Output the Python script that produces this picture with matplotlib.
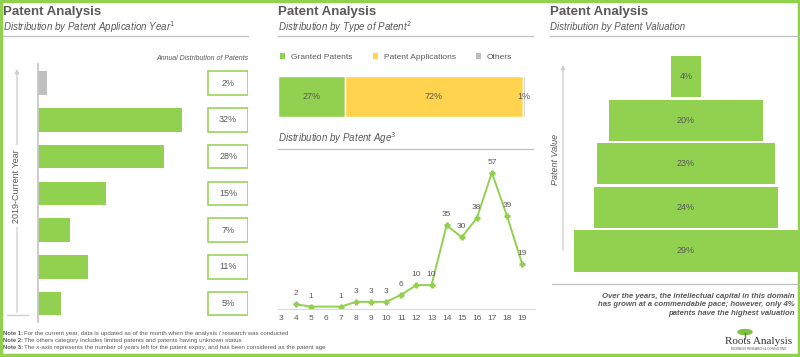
import numpy as np
import matplotlib.pyplot as plt
from matplotlib.patches import Rectangle, Ellipse, Patch

plt.rcParams['font.family'] = ['Liberation Sans', 'DejaVu Sans']

W, H = 800, 357
GREEN = '#92D050'
YELLOW = '#FFD34E'
GRAY = '#BFBFBF'
TXT = '#595959'

# distribution by application year (top = current year, bottom = 2019)
year_share = [2, 32, 28, 15, 7, 11, 5]
year_colors = [GRAY] + [GREEN] * 6

# distribution by type of patent
type_names = ['Granted Patents', 'Patent Applications', 'Others']
type_share = [27, 72, 1]
type_colors = [GREEN, YELLOW, GRAY]

# distribution by patent age
age = [4, 5, 7, 8, 9, 10, 11, 12, 13, 14, 15, 16, 17, 18, 19]
age_count = [2, 1, 1, 3, 3, 3, 6, 10, 10, 35, 30, 38, 57, 39, 19]
age_ticks = list(range(3, 20))

# distribution by patent valuation (top = highest value)
val_share = [4, 20, 23, 24, 29]

fig = plt.figure(figsize=(8, 3.57), dpi=100)


def px_axes(x0, y0, x1, y1):
    ax = fig.add_axes([x0 / W, 1 - y1 / H, (x1 - x0) / W, (y1 - y0) / H])
    ax.patch.set_alpha(0)
    return ax


# overlay in pixel coords for titles, lines, notes
ov = px_axes(0, 0, W, H)
ov.set_xlim(0, W)
ov.set_ylim(H, 0)
ov.axis('off')

for x0, x1, sub in [(3, 248, 'Distribution by Patent Application Year$^1$'),
                    (278, 533, 'Distribution by Type of Patent$^2$'),
                    (550, 800, 'Distribution by Patent Valuation')]:
    ov.text(x0, 12, 'Patent Analysis', fontsize=9.5, fontweight='bold', color=TXT, va='center')
    ov.text(x0, 27, sub, fontsize=7, style='italic', color=TXT, va='center')
    ov.plot([x0, x1], [36, 36], color=GRAY, lw=0.9)

ov.text(278, 138, 'Distribution by Patent Age$^3$', fontsize=7, style='italic', color=TXT, va='center')
ov.plot([278, 533], [149, 149], color=GRAY, lw=0.9)

ov.text(248, 58, 'Annual Distribution of Patents', fontsize=5, style='italic', color=TXT,
        ha='right', va='center')

# year axis arrow
ov.annotate('', xy=(17, 66), xytext=(17, 315),
            arrowprops=dict(arrowstyle='-|>', color='#D0D0D0', lw=1, mutation_scale=6))
ov.plot([7, 28], [315, 315], color='#D0D0D0', lw=1)
ov.text(17, 186, '2019-Current Year', rotation=90, fontsize=6.5, color=TXT, ha='center', va='center',
        bbox=dict(facecolor='white', edgecolor='none', pad=3))

# valuation arrow
ov.annotate('', xy=(563, 62), xytext=(563, 253),
            arrowprops=dict(arrowstyle='-|>', color='#D0D0D0', lw=1, mutation_scale=6))
ov.text(555, 159, 'Patent Value', rotation=90, fontsize=6.5, style='italic', color=TXT,
        ha='center', va='center')

# conclusion
ov.plot([552, 800], [284, 284], color=GRAY, lw=0.9)
ov.text(795, 305, 'Over the years, the intellectual capital in this domain\n'
        'has grown at a commendable pace; however, only 4%\n'
        'patents have the highest valuation',
        fontsize=5.6, fontweight='bold', style='italic', color=TXT, ha='right', va='center',
        linespacing=1.25)

# notes
notes = [('Note 1:', 'For the current year, data is updated as of the month when the analysis / research was conducted'),
         ('Note 2:', 'The others category includes limited patents and patents having unknown status'),
         ('Note 3:', 'The x-axis represents the number of years left for the patent expiry, and has been considered as the patent age')]
for i, (a, b) in enumerate(notes):
    y = 333.5 + i * 7
    ov.text(3, y, a, fontsize=4.2, fontweight='bold', color=TXT, va='center')
    ov.text(24, y, b, fontsize=4.4, color=TXT, va='center')

# logo
ov.add_patch(Ellipse((745, 332), 14, 5, color='#7CC142'))
ov.plot([745, 745], [333, 338], color='#8B6B3D', lw=1)
ov.text(759, 342, 'Roots Analysis', fontsize=8, family='Liberation Serif', color='#333333',
        ha='center', va='center')
ov.text(759, 349, 'BUSINESS RESEARCH & CONSULTING', fontsize=2.2, color='#555555', ha='center', va='center')

# border
ov.add_patch(Rectangle((1, 1), W - 2.5, H - 3.5, fill=False, edgecolor=GREEN, lw=2.5))

# ---- panel 1: bars by year
ax1 = px_axes(38, 64, 248, 322)
idx = np.arange(len(year_share))
ax1.barh(idx, year_share, height=0.64, color=year_colors)
box_left, box_w = 37.8, 8.9
ax1.barh(idx, box_w, left=box_left, height=0.64, color='white', edgecolor=GREEN, lw=1.1)
for i, v in enumerate(year_share):
    ax1.text(box_left + box_w / 2, i, f'{v}%', fontsize=6.5, color=TXT, ha='center', va='center')
ax1.set_xlim(0, 210 / 4.5)
ax1.set_ylim(6.5, -0.52)
for s in ['top', 'right', 'bottom']:
    ax1.spines[s].set_visible(False)
ax1.spines['left'].set_color('#C8C8C8')
ax1.spines['left'].set_linewidth(1.3)
ax1.set_xticks([])
ax1.set_yticks([])

# ---- panel 2: stacked type bar
ax2 = px_axes(278, 76, 525, 117)
left = 0
for name, v, c in zip(type_names, type_share, type_colors):
    ax2.barh(0, v, left=left, height=1, color=c, edgecolor='white', lw=1)
    ax2.text(left + v / 2, 0, f'{v}%', fontsize=6.5, color=TXT, ha='center', va='center')
    left += v
ax2.set_xlim(0, 100)
ax2.set_ylim(-0.5, 0.5)
ax2.axis('off')
handles = [Patch(facecolor=c, edgecolor='none', label=n) for n, c in zip(type_names, type_colors)]
ax2.legend(handles=handles, loc='lower left', bbox_to_anchor=(0.008, 1.37), ncol=3, frameon=False,
           fontsize=6, handlelength=0.6, handleheight=0.6, handletextpad=0.75, columnspacing=2.4,
           borderaxespad=0, borderpad=0, labelcolor=TXT)

# ---- panel 2b: patent age line
ax3 = px_axes(278, 150, 535, 309)
ax3.plot(age, age_count, color=GREEN, lw=1.4, marker='P', ms=3.5)
for x, v in zip(age, age_count):
    ax3.annotate(str(v), (x, v), xytext=(0, 7.5), textcoords='offset points', fontsize=6,
                 color=TXT, ha='center', va='center')
ax3.set_xlim(2.82, 19.86)
ax3.set_ylim(0, 66.5)
ax3.set_xticks(age_ticks)
ax3.tick_params(axis='x', length=0, labelsize=6, labelcolor=TXT, pad=4)
ax3.set_yticks([])
for s in ['top', 'right', 'left']:
    ax3.spines[s].set_visible(False)
ax3.spines['bottom'].set_color('#D9D9D9')

# ---- panel 3: valuation funnel
ax4 = px_axes(565, 52, 800, 275)
vidx = np.arange(len(val_share))
vals = np.array(val_share)
ax4.barh(vidx, vals, left=-vals / 2, height=0.94, color=GREEN)
for i, v in enumerate(val_share):
    ax4.text(0, i, f'{v}%', fontsize=6.5, color=TXT, ha='center', va='center')
ax4.set_xlim(-15.7, 14.8)
ax4.set_ylim(4.55, -0.56)
ax4.axis('off')

fig.savefig('out.png', dpi=100)
